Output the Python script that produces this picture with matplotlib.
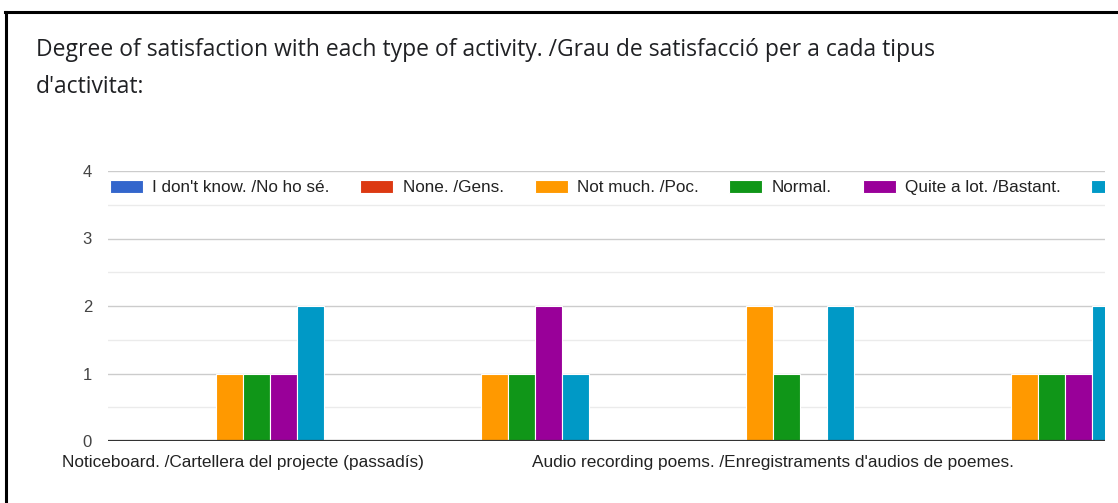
import matplotlib
matplotlib.use("Agg")
import matplotlib.pyplot as plt
import numpy as np
from matplotlib.lines import Line2D

# categories (labels of the 2nd and 4th group are not shown in the chart)
categorias = ["Noticeboard. /Cartellera del projecte (passadís)", "",
              "Audio recording poems. /Enregistraments d'audios de poemes.", ""]
respuestas = ["I don't know. /No ho sé.", "None. /Gens.", "Not much. /Poc.",
              "Normal.", "Quite a lot. /Bastant.", "A lot. /Molt."]
no_se = [0, 0, 0, 0]
gens = [0, 0, 0, 0]
poc = [1, 1, 2, 1]
normal = [1, 1, 1, 1]
bastant = [1, 2, 0, 1]
molt = [2, 1, 2, 2]
colores = ['#3366cc', '#dc3912', '#ff9900', '#109618', '#990099', '#0099c6']

series = [no_se, gens, poc, normal, bastant, molt]
fuente = ['Liberation Sans', 'DejaVu Sans']

W, H = 1118, 503
fig = plt.figure(figsize=(W / 100, H / 100), dpi=100)
ax = fig.add_axes([108 / W, 1 - 441 / H, (1105 - 108) / W, (441 - 171) / H])

x = np.arange(len(categorias))
ancho = 0.102
for i, (vals, col, lab) in enumerate(zip(series, colores, respuestas)):
    ax.bar(x + (i - 2.5) * ancho, vals, ancho, color=col, label=lab,
           edgecolor='white', linewidth=0.8, zorder=3)

ax.set_xlim(-0.51, 3.253)
ax.set_ylim(0, 4)
ax.set_yticks([0, 1, 2, 3, 4])
ax.set_yticks([0.5, 1.5, 2.5, 3.5], minor=True)
ax.set_xticks(x)
ax.set_xticklabels(categorias, fontsize=12.4, color='#222222', family=fuente)
for t in ax.get_yticklabels():
    t.set_fontsize(12)
    t.set_color('#444444')
    t.set_family(fuente)
ax.tick_params(axis='both', which='both', length=0)
ax.tick_params(axis='x', pad=10)
ax.tick_params(axis='y', pad=11.5)
ax.grid(axis='y', which='major', color='#cccccc', linewidth=1, zorder=0)
ax.grid(axis='y', which='minor', color='#ebebeb', linewidth=1, zorder=0)
ax.axhline(0, color='#333333', linewidth=1.6, zorder=4)
for s in ax.spines.values():
    s.set_visible(False)

leg = ax.legend(loc='center left', bbox_to_anchor=(0.002, 0.939), ncol=6,
                frameon=False, borderaxespad=0, borderpad=0,
                handlelength=1.93, handleheight=0.88, handletextpad=0.53,
                columnspacing=1.82, prop={'family': fuente, 'size': 12.3})
for t in leg.get_texts():
    t.set_color('#222222')
# the last legend entry is cut off by the chart area in the original
leg.get_texts()[-1].set_visible(False)
leg.legend_handles[-1].set_clip_box(ax.bbox)

fig.text(36 / W, 1 - 50 / H,
         "Degree of satisfaction with each type of activity. /Grau de satisfacció per a cada tipus",
         fontsize=16.5, color='#202124', va='center', family=['Open Sans', 'DejaVu Sans'])
fig.text(36 / W, 1 - 87 / H, "d'activitat:",
         fontsize=16.5, color='#202124', va='center', family=['Open Sans', 'DejaVu Sans'])

# black frame of the screenshot
fig.add_artist(Line2D([5 / W, 1], [1 - 12 / H, 1 - 12 / H], color='black', linewidth=2.2,
                      transform=fig.transFigure))
fig.add_artist(Line2D([6 / W, 6 / W], [0, 1 - 12 / H], color='black', linewidth=2.2,
                      transform=fig.transFigure))

fig.savefig("out.png", dpi=100)
